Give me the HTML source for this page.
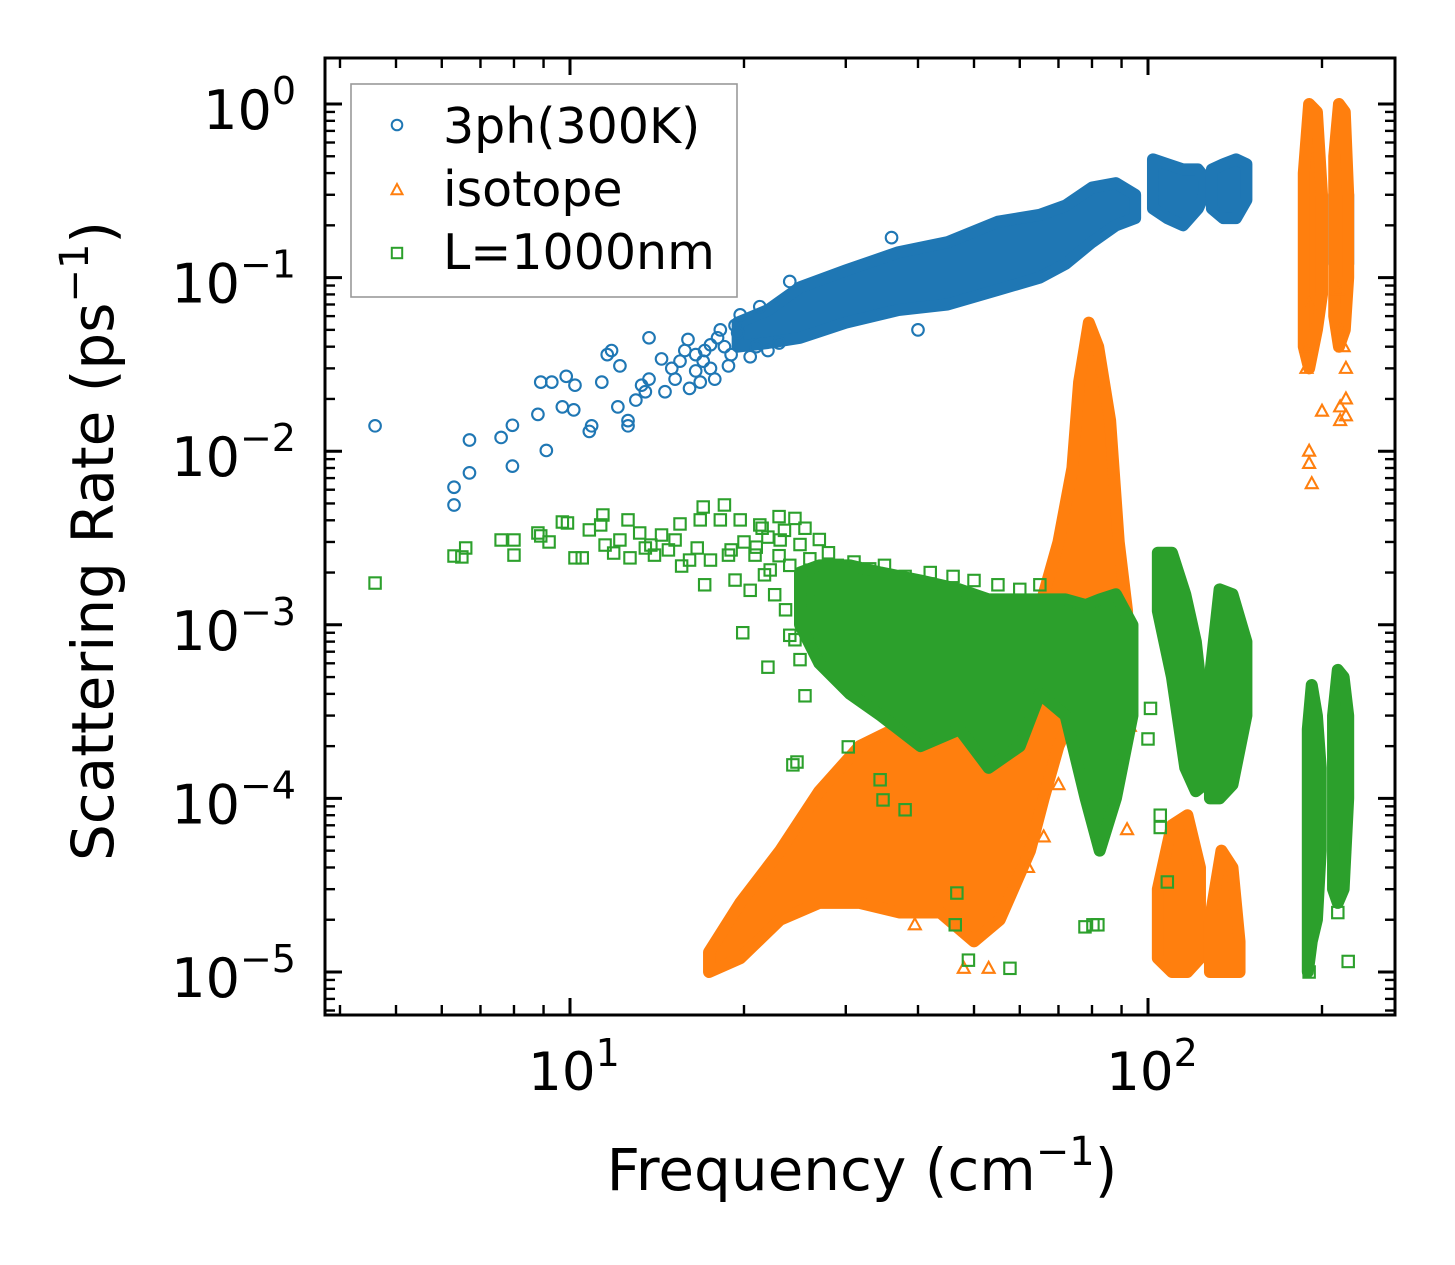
<!DOCTYPE html>
<html><head><meta charset="utf-8"><style>
body{margin:0;background:#fff}
svg{display:block;font-family:"DejaVu Sans","Liberation Sans",sans-serif}
</style></head><body>
<svg id="chart" width="1455" height="1265" viewBox="0 0 1455 1265">
<rect width="1455" height="1265" fill="#fff"/>
<g id="plot"></g>
<g id="axes"></g>
</svg>
<script>
// ---- data ----
const blueX=[4.6,6.3,6.3,6.7,6.7,7.6,7.95,7.95,8.9,9.1,9.3,8.8,9.85,10.2,9.7,10.15,10.8,10.9,11.35,11.6,11.8,12.2,12.1,12.6,12.6,13.0,13.3,13.5,13.7,13.7,14.4,14.6,15.2,15.8,16.0,16.1,16.5,17.1,17.5,18.2,19.3,19.7,21.3,24,36,40,15,15.5,16.5,17,17.5,18,18.5,19,19.5,17.8,16.8,18.8,20.5,21,22,23];
const blueY=[0.014,0.0062,0.0049,0.0116,0.0075,0.012,0.0141,0.0082,0.025,0.0101,0.025,0.0163,0.027,0.024,0.018,0.0173,0.013,0.014,0.025,0.036,0.038,0.031,0.018,0.015,0.014,0.0197,0.024,0.022,0.045,0.026,0.034,0.022,0.026,0.038,0.044,0.023,0.029,0.038,0.041,0.05,0.053,0.061,0.068,0.095,0.17,0.05,0.03,0.033,0.036,0.033,0.03,0.045,0.04,0.036,0.048,0.026,0.025,0.031,0.035,0.04,0.038,0.042];
const blueBands=[
 [[19.5,0.04,0.055],[22,0.042,0.065],[25,0.045,0.088],[30,0.055,0.11],[37,0.065,0.14],[45,0.07,0.16],[55,0.085,0.21],[65,0.1,0.23],[72,0.12,0.26],[80,0.16,0.33],[88,0.2,0.35],[95,0.22,0.3]],
 [[102,0.25,0.48],[108,0.22,0.45],[115,0.2,0.42],[122,0.25,0.42],[125,0.3,0.38]],
 [[129,0.25,0.42],[135,0.22,0.45],[142,0.22,0.48],[148,0.28,0.45]],
 [[188,0.12,0.25],[198,0.12,0.25]],
 [[210,0.12,0.3],[222,0.12,0.3]]
];
const orangeX=[188,188,190,190,192,200,215,218,220,215,215,220,220,213,190,92,93,39.5,48,53,62,66,70];
const orangeY=[0.04,0.03,0.01,0.0085,0.0065,0.017,0.05,0.04,0.03,0.018,0.015,0.02,0.016,0.085,0.07,6.6e-5,2.6e-4,1.87e-5,1.05e-5,1.05e-5,4e-5,6e-5,1.2e-4];
const orangeBands=[
 [[17.4,1e-5,1.3e-5],[19.7,1.2e-5,2.5e-5],[23.1,2e-5,5e-5],[27,2.5e-5,1.1e-4],[31.7,2.5e-5,2e-4],[37.2,2.2e-5,2.6e-4],[43.7,2.2e-5,3e-4],[50,1.5e-5,3e-4],[55.4,2e-5,4e-4],[62.5,5e-5,6e-4],[66,1e-4,1.5e-3],[70,2e-4,3e-3],[74,3e-4,8e-3],[76,4e-4,2.5e-2],[79,5e-4,5.5e-2],[82,5e-4,4e-2],[86,5e-4,1.5e-2],[89,5e-4,3e-3],[92,5e-4,1.2e-3]],
 [[104,1.2e-5,3e-5],[110,1e-5,7e-5],[117,1e-5,8e-5],[123,1.2e-5,4e-5]],
 [[128,1e-5,2e-5],[134,1e-5,5e-5],[140,1e-5,4e-5],[144,1e-5,1.5e-5]],
 [[186,0.04,0.4],[190,0.03,1.0],[196,0.05,0.9],[200,0.08,0.3]],
 [[210,0.06,0.5],[214,0.04,1.0],[219,0.05,0.9],[222,0.1,0.3]]
];
const greenX=[4.6,6.3,6.5,6.6,7.6,8.0,8.0,8.8,8.9,9.2,9.7,9.9,10.2,10.5,10.8,11.3,11.4,11.5,11.9,12.2,12.6,12.7,13.2,13.5,13.8,14.0,14.4,14.8,15.2,15.5,15.6,16.1,16.6,16.8,17.0,17.1,17.5,18.2,18.5,18.8,19.3,19.7,19.9,20.5,20.9,21.3,21.7,22.0,22.2,22.6,23.1,23.6,24.0,24.3,24.5,24.7,25.0,25.5,26.0,27.1,30.3,34.4,34.8,38.0,46.4,46.7,48.9,57.7,77.8,80.3,81.9,105,105,108,190,222,213,100,101,21,22,23,23.5,24,25,25.5,26,27,28,29,20,19,24.5,23,21.5,26.5,31,33,35,38,42,46,50,55,60,65];
const greenY=[0.00174,0.00249,0.00246,0.00277,0.00308,0.00308,0.00252,0.00338,0.00325,0.003,0.00391,0.00386,0.00243,0.00243,0.00352,0.00376,0.00429,0.00288,0.00259,0.00308,0.00402,0.00243,0.00338,0.00277,0.00288,0.00252,0.00329,0.0027,0.00308,0.00381,0.00218,0.00236,0.00277,0.00402,0.00477,0.0017,0.00236,0.00402,0.0049,0.00252,0.00181,0.00402,0.0009,0.00158,0.00252,0.00376,0.00194,0.00057,0.00207,0.00149,0.00308,0.00122,0.00087,0.000156,0.00082,0.000162,0.00063,0.00039,0.00139,0.00082,0.000198,0.000128,9.8e-5,8.6e-5,1.87e-5,2.85e-5,1.17e-5,1.05e-5,1.82e-5,1.87e-5,1.87e-5,6.8e-5,8.0e-5,3.3e-5,1.0e-5,1.15e-5,2.2e-5,2.2e-4,3.3e-4,0.0028,0.0032,0.0025,0.0035,0.0022,0.0029,0.0036,0.0024,0.0031,0.0026,0.0022,0.003,0.0027,0.0041,0.0042,0.0036,0.0019,0.0023,0.0021,0.0022,0.0019,0.002,0.0019,0.0018,0.0017,0.0016,0.0017];
const greenBands=[
 [[25,1e-3,2e-3],[27,6e-4,2.2e-3],[30.5,4e-4,2.2e-3],[34.5,3e-4,2e-3],[40.4,2e-4,1.8e-3],[47.2,2.5e-4,1.6e-3],[53,1.5e-4,1.4e-3],[60,2e-4,1.4e-3],[65,4e-4,1.4e-3],[72,3e-4,1.4e-3],[78,1e-4,1.3e-3],[82.5,5e-5,1.4e-3],[88,1e-4,1.5e-3],[94,3e-4,1e-3]],
 [[104,1.2e-3,2.6e-3],[110,5e-4,2.6e-3],[116,1.5e-4,1.5e-3],[121,1.1e-4,8e-4],[125,1.2e-4,3e-4]],
 [[128,1e-4,5e-4],[133,1e-4,1.6e-3],[140,1.2e-4,1.5e-3],[148,3e-4,8e-4]],
 [[189,1e-5,2.5e-4],[192,1.5e-5,4.5e-4],[196,2e-5,3e-4],[199,5e-5,1.5e-4]],
 [[209,3e-5,3e-4],[213,2.5e-5,5.5e-4],[218,3e-5,5e-4],[222,1e-4,3e-4]]
];
const xTickVals=[10,100];
const xTickLabels=["1","2"];
const yTickVals=[1,0.1,0.01,0.001,0.0001,0.00001];
const yTickLabels=["0","\u22121","\u22122","\u22123","\u22124","\u22125"];

// ---- axis functions ----
const L=325,R=1395,T=58,B=1015;
function sx(v){return 570+(Math.log10(v)-1)*578;}
function sy(v){return 104-Math.log10(v)*173.6;}
const NS="http://www.w3.org/2000/svg";
function mk(tag,attrs,parent){const e=document.createElementNS(NS,tag);for(const k in attrs)e.setAttribute(k,attrs[k]);parent.appendChild(e);return e;}
const plot=document.getElementById('plot'),axes=document.getElementById('axes');
const clip=mk('clipPath',{id:'clp'},plot);mk('rect',{x:L,y:T,width:R-L,height:B-T},clip);
plot.setAttribute('clip-path','url(#clp)');

function marker(kind,x,y,color,g){
  let e;
  if(kind==='o'){e=mk('circle',{cx:x,cy:y,r:5.8,fill:'none',stroke:color,'stroke-width':2.1},g);}
  else if(kind==='^'){e=mk('polygon',{points:`${x},${y-6.5} ${x-6},${y+4.5} ${x+6},${y+4.5}`,fill:'none',stroke:color,'stroke-width':2.1},g);}
  else {e=mk('rect',{x:x-5.7,y:y-5.7,width:11.4,height:11.4,fill:'none',stroke:color,'stroke-width':2.1},g);}
  return e;
}
function band(b,color,g){
  const top=b.map(p=>`${sx(p[0])},${sy(p[2])}`);
  const bot=b.slice().reverse().map(p=>`${sx(p[0])},${sy(p[1])}`);
  return mk('polygon',{points:top.concat(bot).join(' '),fill:color,stroke:color,'stroke-width':12,'stroke-linejoin':'round'},g);
}
function series(name,kind,color,xs,ys,bands){
  const g=mk('g',{},plot);
  
  
  bands.forEach(b=>{const e=band(b,color,g);
    
    });
  xs.forEach((v,i)=>{const e=marker(kind,sx(v),sy(ys[i]),color,g);
    
    });
}
series('3ph','o','#1f77b4',blueX,blueY,blueBands);
series('isotope','^','#ff7f0e',orangeX,orangeY,orangeBands);
series('boundary','s','#2ca02c',greenX,greenY,greenBands);

const fr=mk('rect',{x:L,y:T,width:R-L,height:B-T,fill:'none',stroke:'#000','stroke-width':3},axes);


function tick(x1,y1,x2,y2,w){mk('line',{x1,y1,x2,y2,stroke:'#000','stroke-width':w},axes);}
for(let d=0;d<3;d++){for(let m=1;m<10;m++){const v=m*Math.pow(10,d);const x=sx(v);if(x<L+2||x>R-2)continue;
  const len=m===1?17:10;tick(x,B,x,B-len,m===1?3:2.4);tick(x,T,x,T+len,m===1?3:2.4);}}
for(let d=-6;d<1;d++){for(let m=1;m<10;m++){const v=m*Math.pow(10,d);const y=sy(v);if(y<T+2||y>B-2)continue;
  const len=m===1?17:10;tick(L,y,L+len,y,m===1?3:2.4);tick(R,y,R-len,y,m===1?3:2.4);}}
xTickVals.forEach((v,i)=>{const t=mk('text',{x:sx(v)+4,y:1090,'font-size':53,'text-anchor':'middle',fill:'#000'},axes);
  const a=mk('tspan',{},t);a.textContent='10';const s=mk('tspan',{dy:-24,'font-size':38},t);s.textContent=xTickLabels[i];
  });
yTickVals.forEach((v,i)=>{const t=mk('text',{x:296,y:sy(v)+25,'font-size':54,'text-anchor':'end',fill:'#000'},axes);
  const a=mk('tspan',{},t);a.textContent='10';const s=mk('tspan',{dy:-25,'font-size':38},t);s.textContent=yTickLabels[i];
  });
</script>
<svg style="position:absolute;left:0;top:0" width="1455" height="1265">
<text x="862" y="1190" font-size="58" text-anchor="middle" font-family="DejaVu Sans, Liberation Sans, sans-serif">Frequency (cm<tspan dy="-25" font-size="40">−1</tspan><tspan dy="25">)</tspan></text>
<text transform="translate(113,541) rotate(-90)" font-size="58" text-anchor="middle" font-family="DejaVu Sans, Liberation Sans, sans-serif">Scattering Rate (ps<tspan dy="-25" font-size="40">−1</tspan><tspan dy="25">)</tspan></text>
<g>
<rect x="351" y="84" width="386" height="213" fill="#fff" fill-opacity="0.85" stroke="#999" stroke-width="1.6"/>
<circle cx="397" cy="125" r="5.3" fill="none" stroke="#1f77b4" stroke-width="2"/>
<text x="443" y="143" font-size="49" font-family="DejaVu Sans, Liberation Sans, sans-serif">3ph(300K)</text>
<polygon points="397,184 391.5,194.2 402.5,194.2" fill="none" stroke="#ff7f0e" stroke-width="2"/>
<text x="443" y="206" font-size="49" font-family="DejaVu Sans, Liberation Sans, sans-serif">isotope</text>
<rect x="391.8" y="247.8" width="10.4" height="10.4" fill="none" stroke="#2ca02c" stroke-width="2"/>
<text x="443" y="269" font-size="49" font-family="DejaVu Sans, Liberation Sans, sans-serif">L=1000nm</text>
</g>
</svg>
</body></html>
